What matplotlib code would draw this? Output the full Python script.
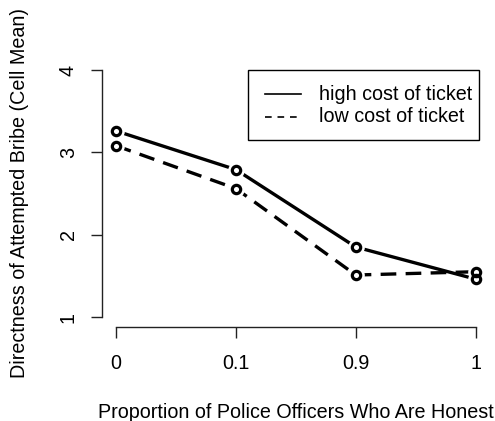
import matplotlib
matplotlib.use("Agg")
import matplotlib.pyplot as plt
from matplotlib.patches import Rectangle

plt.rcParams["font.family"] = ["Liberation Sans", "DejaVu Sans"]

honesty = ["0", "0.1", "0.9", "1"]
high_cost = [3.26, 2.79, 1.85, 1.46]
low_cost = [3.08, 2.56, 1.51, 1.55]
y_ticks = [1, 2, 3, 4]
series_names = ["high cost of ticket", "low cost of ticket"]

W, H = 495, 421
FS = 14.2
fig = plt.figure(figsize=(W / 100, H / 100), dpi=100)
ax = fig.add_axes([101.6 / W, 1 - 326.9 / H, 388.5 / W, 266.8 / H])

x = list(range(1, len(honesty) + 1))
# lines first, then a white halo so segments stop short of the points,
# then the open circles on top
ax.plot(x, high_cost, color="black", lw=2.4, solid_capstyle="butt", zorder=2)
ax.plot(x, low_cost, color="black", lw=2.4, dashes=(4.7, 2.8),
        dash_capstyle="butt", zorder=2)
for ys in (high_cost, low_cost):
    ax.plot(x, ys, ls="none", marker="o", ms=12, mfc="white", mec="none",
            zorder=3)
for ys in (high_cost, low_cost):
    ax.plot(x, ys, ls="none", marker="o", ms=6, mfc="none", mec="black",
            mew=2.3, zorder=4)

ax.set_xlim(0.88, 4.12)
ax.set_ylim(0.88, 4.12)

# base-graphics style axes: lines only between first and last tick
for side in ("top", "right"):
    ax.spines[side].set_visible(False)
ax.spines["left"].set_bounds(1, 4)
ax.spines["bottom"].set_bounds(1, 4)
for side in ("left", "bottom"):
    ax.spines[side].set_linewidth(1.0)
    ax.spines[side].set_color("#222222")

ax.set_xticks(x)
ax.set_xticklabels(honesty)
ax.set_yticks(y_ticks)
ax.set_yticklabels([str(v) for v in y_ticks], rotation=90, va="center")
ax.tick_params(axis="both", direction="out", length=8.2, width=1.0,
               color="#222222", labelsize=FS)
ax.tick_params(axis="x", pad=11)
ax.tick_params(axis="y", pad=9)

ax.set_xlabel("Proportion of Police Officers Who Are Honest", fontsize=FS,
              va="center")
ax.set_ylabel("Directness of Attempted Bribe (Cell Mean)", fontsize=FS,
              va="center")
ax.xaxis.set_label_coords(0.5, (326.9 - 412) / 266.8)
ax.yaxis.set_label_coords((20 - 101.6) / 388.5, 0.5)

# legend box, drawn in figure pixels
px = lambda v: v / W
py = lambda v: 1 - v / H
fig.patches.append(Rectangle((px(248), py(140)), px(479) - px(248),
                             py(70) - py(140), transform=fig.transFigure,
                             fill=False, edgecolor="black", lw=1.0))
fig.add_artist(plt.Line2D([px(265), px(301)], [py(94), py(94)],
                          color="black", lw=1.2, transform=fig.transFigure))
fig.add_artist(plt.Line2D([px(265), px(301)], [py(117), py(117)],
                          color="black", lw=1.2, dashes=(4, 3.5),
                          transform=fig.transFigure))
for name, yy in zip(series_names, [94, 117]):
    fig.text(px(319), py(yy), name, fontsize=FS, va="center", ha="left")

fig.savefig("out.png", dpi=100)
